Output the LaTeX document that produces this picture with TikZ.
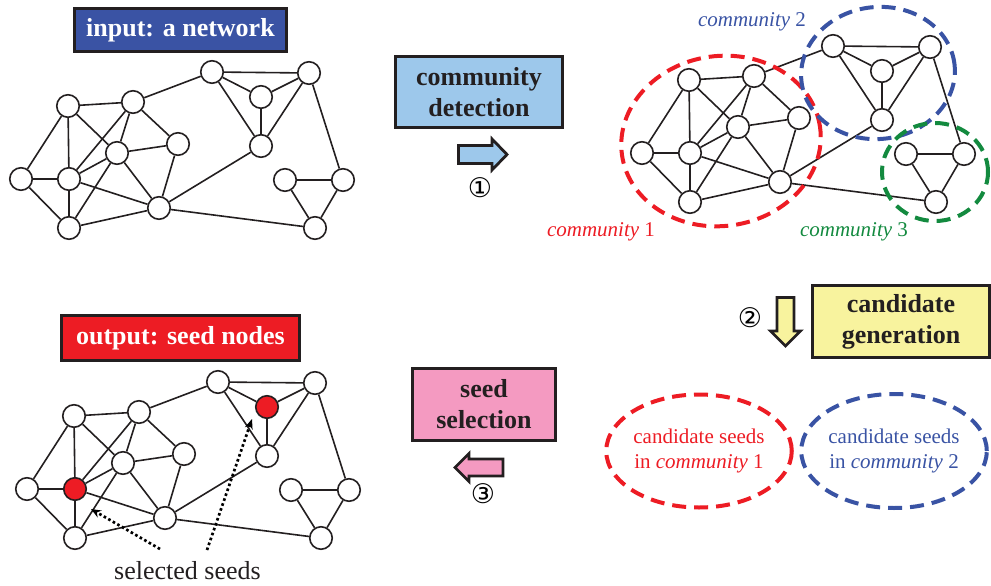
\documentclass[tikz,border=0pt]{standalone}
\usepackage{fontspec}
\setmainfont{Liberation Serif}
\newfontfamily\symfont{DejaVu Sans}
\usetikzlibrary{arrows.meta,shapes.geometric}

\definecolor{inkdark}{HTML}{231F20}
\definecolor{boxblue}{HTML}{3A53A4}
\definecolor{boxred}{HTML}{ED1C24}
\definecolor{detectblue}{HTML}{9DC8EB}
\definecolor{selectpink}{HTML}{F49AC1}
\definecolor{genyellow}{HTML}{F8F39E}
\definecolor{comred}{HTML}{ED1C24}
\definecolor{comblue}{HTML}{3953A4}
\definecolor{comgreen}{HTML}{138A3F}

% one copy of the example graph; node styles seedE / seedJ mark the chosen seeds
\newcommand\drawnet{%
  \node[vert] (A) at (68,106) {};
  \node[vert] (B) at (133,102) {};
  \node[vert] (C) at (212,72) {};
  \node[vert] (D) at (309,73) {};
  \node[vert,seedE] (E) at (261,97) {};
  \node[vert] (F) at (117,153) {};
  \node[vert] (G) at (178,144) {};
  \node[vert] (H) at (261,146) {};
  \node[vert] (I) at (21,179) {};
  \node[vert,seedJ] (J) at (69,179) {};
  \node[vert] (K) at (159,208) {};
  \node[vert] (L) at (69,228) {};
  \node[vert] (M) at (285,180) {};
  \node[vert] (N) at (343,180) {};
  \node[vert] (O) at (315,228) {};
  \foreach \a/\b in {A/B,A/I,A/J,A/F,B/C,B/J,B/F,B/G,F/G,F/J,F/K,F/L,
                     J/I,J/L,J/K,I/L,G/K,L/K,K/H,K/O,C/D,C/E,C/H,D/E,
                     D/H,E/H,D/N,M/N,M/O,N/O}
    \draw[link] (\a) -- (\b);
}

\begin{document}
\begin{tikzpicture}[x=1pt,y=-1pt,
  vert/.style={circle,draw=inkdark,fill=white,line width=1.6pt,
               minimum size=22.5pt,inner sep=0pt},
  link/.style={draw=inkdark,line width=1.6pt},
  seedE/.style={}, seedJ/.style={},
  procbox/.style={draw=inkdark,line width=3pt,inner sep=0pt,align=center,
                  font=\bfseries\fontsize{26}{31}\selectfont},
  blockarrow/.style={draw=inkdark,line width=2.8pt,line join=miter},
  ring/.style={line width=4pt,dash pattern=on 14pt off 8pt},
  comlabel/.style={font=\fontsize{21}{25}\selectfont,inner sep=0pt},
  stepnum/.style={font=\symfont\fontsize{27}{30}\selectfont,inner sep=0pt},
  pointer/.style={draw=black,line width=2.7pt,dash pattern=on 2.6pt off 2.6pt,
                  -{Stealth[length=10pt,width=8pt]}}]
\useasboundingbox (0,0) rectangle (991,586);

% ---- input network ----
\node[procbox,fill=boxblue,text=white,minimum width=212pt,minimum height=43pt]
  (inbox) at (180.5,30) {input: a network};
\begin{scope}[name prefix=in-]
  \drawnet
\end{scope}

% ---- network split into communities ----
\begin{scope}[shift={(621,-26)},name prefix=cd-]
  \drawnet
\end{scope}
\draw[ring,comred,rotate around={8:(721,141)}] (721,141) ellipse [x radius=100pt,y radius=85pt];
\draw[ring,comblue,rotate around={6:(878,73)}] (878,73) ellipse [x radius=77pt,y radius=66pt];
\draw[ring,comgreen] (935,172) ellipse [x radius=53pt,y radius=49pt];
\node[comlabel,text=comred] (lab1) at (601,232) {\itshape community\/ \upshape 1};
\node[comlabel,text=comblue] (lab2) at (752,22) {\itshape community\/ \upshape 2};
\node[comlabel,text=comgreen] (lab3) at (854,232) {\itshape community\/ \upshape 3};

% ---- step 1: community detection ----
\node[procbox,fill=detectblue,text=inkdark,minimum width=167pt,minimum height=71pt]
  (detect) at (479,92) {community\\detection};
\draw[blockarrow,fill=detectblue]
  (458.5,145.5) -- (492,145.5) -- (492,139) -- (507,154.5) -- (492,170)
  -- (492,163.5) -- (458.5,163.5) -- cycle;
\node[stepnum] (num1) at (480,188) {①};

% ---- step 2: candidate generation ----
\node[procbox,fill=genyellow,text=inkdark,minimum width=177pt,minimum height=72pt]
  (gen) at (901,321.5) {candidate\\generation};
\draw[blockarrow,fill=genyellow]
  (777,297.5) -- (777,331) -- (770.5,331) -- (785.5,346) -- (800.5,331)
  -- (794,331) -- (794,297.5) -- cycle;
\node[stepnum] (num2) at (750,318) {②};
\node[draw=comred,ring,ellipse,minimum width=168pt,minimum height=113pt,
      inner sep=0pt,align=center,text=comred,font=\fontsize{21}{25}\selectfont]
  (cand1) at (699,451) {candidate seeds\\ in \itshape community\/ \upshape 1};
\node[draw=comblue,ring,ellipse,minimum width=168pt,minimum height=114pt,
      inner sep=0pt,align=center,text=comblue,font=\fontsize{21}{25}\selectfont]
  (cand2) at (894,451) {candidate seeds\\ in \itshape community\/ \upshape 2};

% ---- step 3: seed selection ----
\node[procbox,fill=selectpink,text=inkdark,minimum width=143pt,minimum height=72pt]
  (select) at (484,404.5) {seed\\selection};
\draw[blockarrow,fill=selectpink]
  (503,459) -- (469,459) -- (469,453.5) -- (455,467.5) -- (469,481.5)
  -- (469,476) -- (503,476) -- cycle;
\node[stepnum] (num3) at (483,494) {③};

% ---- output network with the selected seeds ----
\node[procbox,fill=boxred,text=white,minimum width=238pt,minimum height=45pt]
  (outbox) at (180.5,338) {output: seed nodes};
\begin{scope}[shift={(6,310)},name prefix=out-,
              seedE/.style={fill=boxred},seedJ/.style={fill=boxred}]
  \drawnet
\end{scope}
\coordinate (tailA) at (160,549);
\coordinate (tipA) at (91,509);
\coordinate (tailB) at (207,550);
\coordinate (tipB) at (252,419);
\draw[pointer] (tailA) -- (tipA);
\draw[pointer] (tailB) -- (tipB);
\node[font=\fontsize{26}{31}\selectfont,inner sep=0pt,text=inkdark]
  (seedtext) at (187.5,571) {selected seeds};
\end{tikzpicture}
\end{document}
